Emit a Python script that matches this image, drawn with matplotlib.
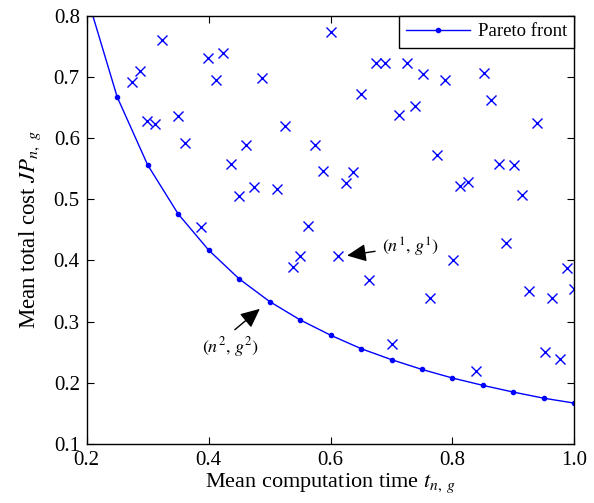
import matplotlib
matplotlib.use('Agg')
import matplotlib.pyplot as plt

plt.rcParams['font.family'] = ['Liberation Serif', 'DejaVu Serif']
plt.rcParams['mathtext.fontset'] = 'stix'

# Pareto front (computation time, total cost)
front_t = [0.20, 0.25, 0.30, 0.35, 0.40, 0.45, 0.50, 0.55, 0.60, 0.65,
           0.70, 0.75, 0.80, 0.85, 0.90, 0.95, 1.00]
front_cost = [0.833, 0.667, 0.556, 0.476, 0.417, 0.370, 0.333, 0.303, 0.278,
              0.256, 0.238, 0.222, 0.208, 0.196, 0.185, 0.175, 0.167]

# other (dominated) solutions
sol_t = [0.324, 0.399, 0.424, 0.600, 0.287, 0.274, 0.412, 0.487, 0.299, 0.312,
         0.349, 0.525, 0.362, 0.462, 0.575, 0.437, 0.588, 0.474, 0.512, 0.450,
         0.387, 0.563, 0.675, 0.689, 0.726, 0.752, 0.788, 0.851, 0.650, 0.713,
         0.738, 0.863, 0.939, 0.775, 0.876, 0.901, 0.637, 0.625, 0.813, 0.826,
         0.914, 0.550, 0.538, 0.612, 0.888, 0.801, 0.988, 0.663, 0.763, 0.926,
         0.964, 1.000, 0.700, 0.952, 0.976, 0.838]
sol_cost = [0.760, 0.731, 0.739, 0.773, 0.709, 0.691, 0.695, 0.698, 0.628, 0.623,
            0.636, 0.619, 0.592, 0.588, 0.588, 0.558, 0.546, 0.520, 0.516, 0.505,
            0.454, 0.457, 0.722, 0.723, 0.723, 0.704, 0.695, 0.707, 0.672, 0.638,
            0.652, 0.662, 0.625, 0.572, 0.557, 0.556, 0.544, 0.526, 0.522, 0.529,
            0.507, 0.408, 0.389, 0.408, 0.428, 0.400, 0.387, 0.368, 0.338, 0.350,
            0.338, 0.354, 0.264, 0.251, 0.239, 0.220]

fig = plt.figure(figsize=(5.94, 5.03), dpi=100)
ax = fig.add_axes([0.146, 0.117, 0.821, 0.852])

ax.plot(sol_t, sol_cost, 'x', color='#0000ff', markersize=6.5, markeredgewidth=1.0)
ax.plot(front_t, front_cost, '.-', color='#0000ff', linewidth=1.0, markersize=6,
        label='Pareto front')

arrow = dict(arrowstyle='-|>,head_length=0.65,head_width=0.3', color='black',
             lw=1.0, mutation_scale=18, shrinkA=0, shrinkB=0)
ax.annotate('', xy=(0.627, 0.408), xytext=(0.673, 0.415), arrowprops=arrow)
ax.text(0.684, 0.421, '$(n^1,\\, g^1)$', fontsize=13, va='center', ha='left')
ax.annotate('', xy=(0.484, 0.321), xytext=(0.443, 0.287), arrowprops=arrow)
ax.text(0.435, 0.258, '$(n^2,\\, g^2)$', fontsize=13, va='center', ha='center')

ax.set_xlim(0.2, 1.0)
ax.set_ylim(0.1, 0.8)
ax.set_xticks([0.2, 0.4, 0.6, 0.8, 1.0])
ax.set_yticks([0.1, 0.2, 0.3, 0.4, 0.5, 0.6, 0.7, 0.8])
ax.tick_params(direction='in', top=True, right=True, labelsize=15, length=5,
               pad=5)
for s in ax.spines.values():
    s.set_linewidth(1.0)

ax.set_xlabel('Mean computation time $t_{n,\\ g}$', fontsize=16, labelpad=1)
ax.set_ylabel('Mean total cost $JP_{n,\\ g}$', fontsize=16.5, labelpad=8)

leg = ax.legend(loc='upper right', fontsize=13.5, fancybox=False, framealpha=1,
                edgecolor='black', borderaxespad=0, handlelength=3.4,
                handletextpad=0.4, borderpad=0.4)
leg.get_frame().set_linewidth(1.0)

fig.savefig('out.png', dpi=100)
